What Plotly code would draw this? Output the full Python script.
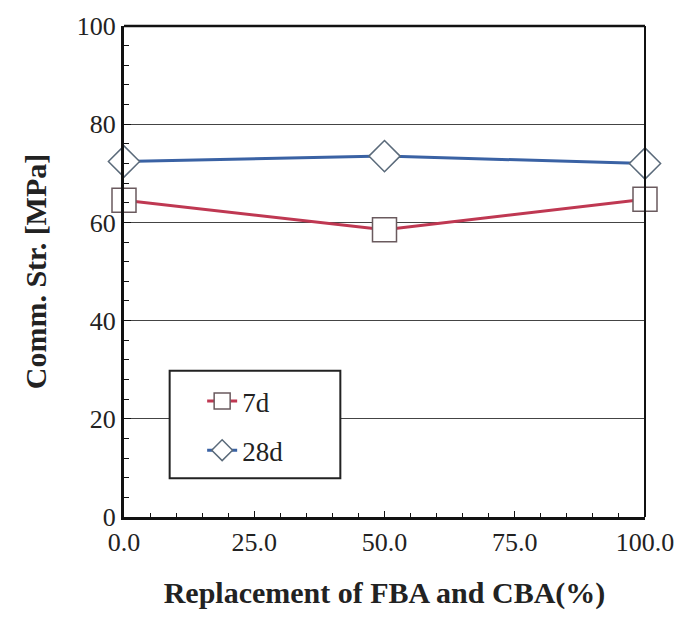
import plotly.graph_objects as go

x_vals = [0, 50, 100]
s7d = [64.5, 58.5, 64.7]
s28d = [72.4, 73.5, 72.0]
x_ticks = [0, 25, 50, 75, 100]
x_ticklabels = ["0.0", "25.0", "50.0", "75.0", "100.0"]
y_ticks = [0, 20, 40, 60, 80, 100]

FONT = "Liberation Serif, Times New Roman, serif"

fig = go.Figure()
fig.add_trace(go.Scatter(
    x=x_vals, y=s7d, name="7d", mode="lines+markers", legendgroup="a",
    cliponaxis=False,
    line=dict(color="#bf3852", width=3),
    marker=dict(symbol="square", size=24, color="white",
                line=dict(color="#6a5a5e", width=1.5)),
))
fig.add_trace(go.Scatter(
    x=x_vals, y=s28d, name="28d", mode="lines+markers", legendgroup="b",
    cliponaxis=False,
    line=dict(color="#3a62a4", width=3),
    marker=dict(symbol="diamond", size=24, color="white",
                line=dict(color="#5a6a7a", width=1.5)),
))

fig.update_layout(
    width=686, height=619,
    margin=dict(l=124, r=37, t=24, b=102),
    paper_bgcolor="white", plot_bgcolor="white",
    font=dict(family=FONT, size=26, color="#222"),
    showlegend=True,
    legend=dict(x=0.15, y=0.285, xanchor="left", yanchor="top",
                bgcolor="rgba(0,0,0,0)", borderwidth=0,
                font=dict(family=FONT, size=27, color="#222"),
                traceorder="grouped", tracegroupgap=11),
    xaxis=dict(range=[0, 100], tickvals=x_ticks, ticktext=x_ticklabels,
               showgrid=False, zeroline=False,
               showline=True, linecolor="#111", linewidth=3,
               ticks="inside", ticklen=6, tickcolor="#111",
               minor=dict(ticks="inside", dtick=5, ticklen=4, tickcolor="#111", showgrid=False),
               title=dict(text="<b>Replacement of FBA and CBA(%)</b>",
                          font=dict(family=FONT, size=30, color="#222"), standoff=26),
               tickfont=dict(family=FONT, size=26, color="#222")),
    yaxis=dict(range=[0, 100], tickvals=y_ticks,
               showgrid=True, gridcolor="#444", gridwidth=1.2,
               zeroline=False,
               showline=True, linecolor="#111", linewidth=3,
               ticks="inside", ticklen=7, tickcolor="#111",
               minor=dict(ticks="inside", dtick=4, ticklen=5, tickcolor="#111", showgrid=False),
               title=dict(text="<b>Comm. Str. [MPa]</b>",
                          font=dict(family=FONT, size=30, color="#222"), standoff=22),
               tickfont=dict(family=FONT, size=26, color="#222")),
    shapes=[
        dict(type="line", xref="paper", yref="paper", x0=0, x1=1, y0=1, y1=1,
             line=dict(color="#111", width=2.5)),
        dict(type="line", xref="paper", yref="paper", x0=1, x1=1, y0=0, y1=1,
             line=dict(color="#111", width=2)),
        dict(type="rect", xref="paper", yref="paper", layer="above",
             x0=(170 - 124) / 525, x1=(342 - 124) / 525, y0=0.079, y1=0.298,
             fillcolor="white", line=dict(color="#222", width=2)),
    ],
)

fig.write_html("out.html")
